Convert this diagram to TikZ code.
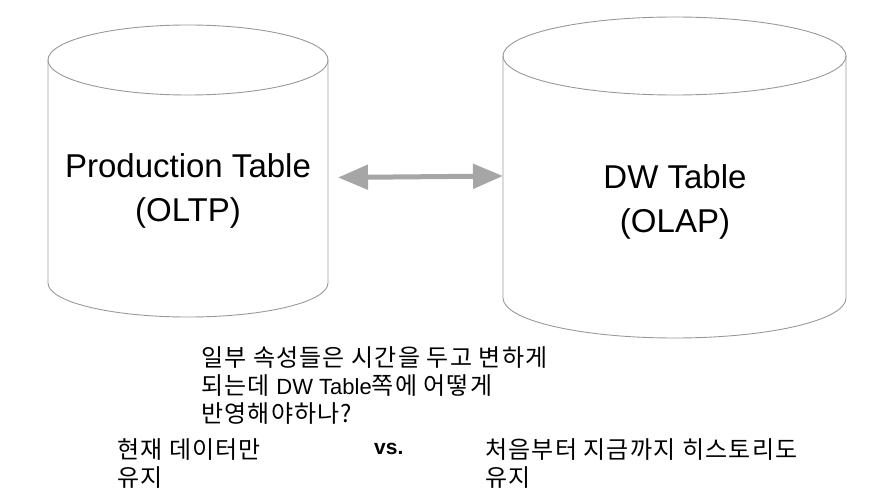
\documentclass[tikz,border=0pt]{standalone}
\usepackage{fontspec}
\setmainfont{Liberation Sans}
\newfontfamily\kr[LetterSpace=5]{Noto Sans CJK KR}
\usetikzlibrary{arrows.meta,positioning}
\tikzset{
  dbline/.style={draw=black!40,line width=0.9pt},
  title/.style={font=\fontsize{33}{44}\selectfont,align=center,inner sep=0pt},
  note/.style={font=\kr\fontsize{24}{28}\selectfont,align=left,anchor=north west,inner sep=0pt},
  link/.style={{Triangle[length=30pt,width=24pt]}-{Triangle[length=30pt,width=24pt]},
    draw=black!35,fill=black!35,line width=5pt},
}

\begin{document}
\begin{tikzpicture}[x=1pt,y=-1pt]
  \useasboundingbox (0,0) rectangle (874,500);
  % production table (oltp)
  \draw[dbline] (48,60) -- (48,283)
    arc[start angle=180,end angle=360,x radius=140pt,y radius=34pt] -- (328,60);
  \draw[dbline] (188,60) ellipse[x radius=140pt,y radius=35pt];
  \node[title] (prod) at (188,191) {Production Table\\(OLTP)};
  % dw table (olap)
  \draw[dbline] (503,56) -- (503,298)
    arc[start angle=180,end angle=360,x radius=171.5pt,y radius=40pt] -- (846,56);
  \draw[dbline] (674.5,56) ellipse[x radius=171.5pt,y radius=39pt];
  \node[title] (dw) at (675,202) {DW Table\\(OLAP)};
  % sync arrow
  \coordinate (prodR) at (338,177.5);
  \coordinate (dwL) at (503,176);
  \draw[link] (prodR) -- (dwL);
  % question and the two options
  \node[note] (question) at (201,346)
    {일부 속성들은 시간을 두고 변하게\\
     되는데 {\normalfont\fontsize{22}{28}\selectfont DW Table}쪽에 어떻게\\
     반영해야하나?};
  \node[note] (current) at (117,438) {현재 데이터만\\유지};
  \node[font=\bfseries\fontsize{21}{24}\selectfont,anchor=base west,inner sep=0pt] (vs) at (374,454) {vs.};
  \node[note] (history) at (485,438) {처음부터 지금까지 히스토리도\\유지};
\end{tikzpicture}
\end{document}
